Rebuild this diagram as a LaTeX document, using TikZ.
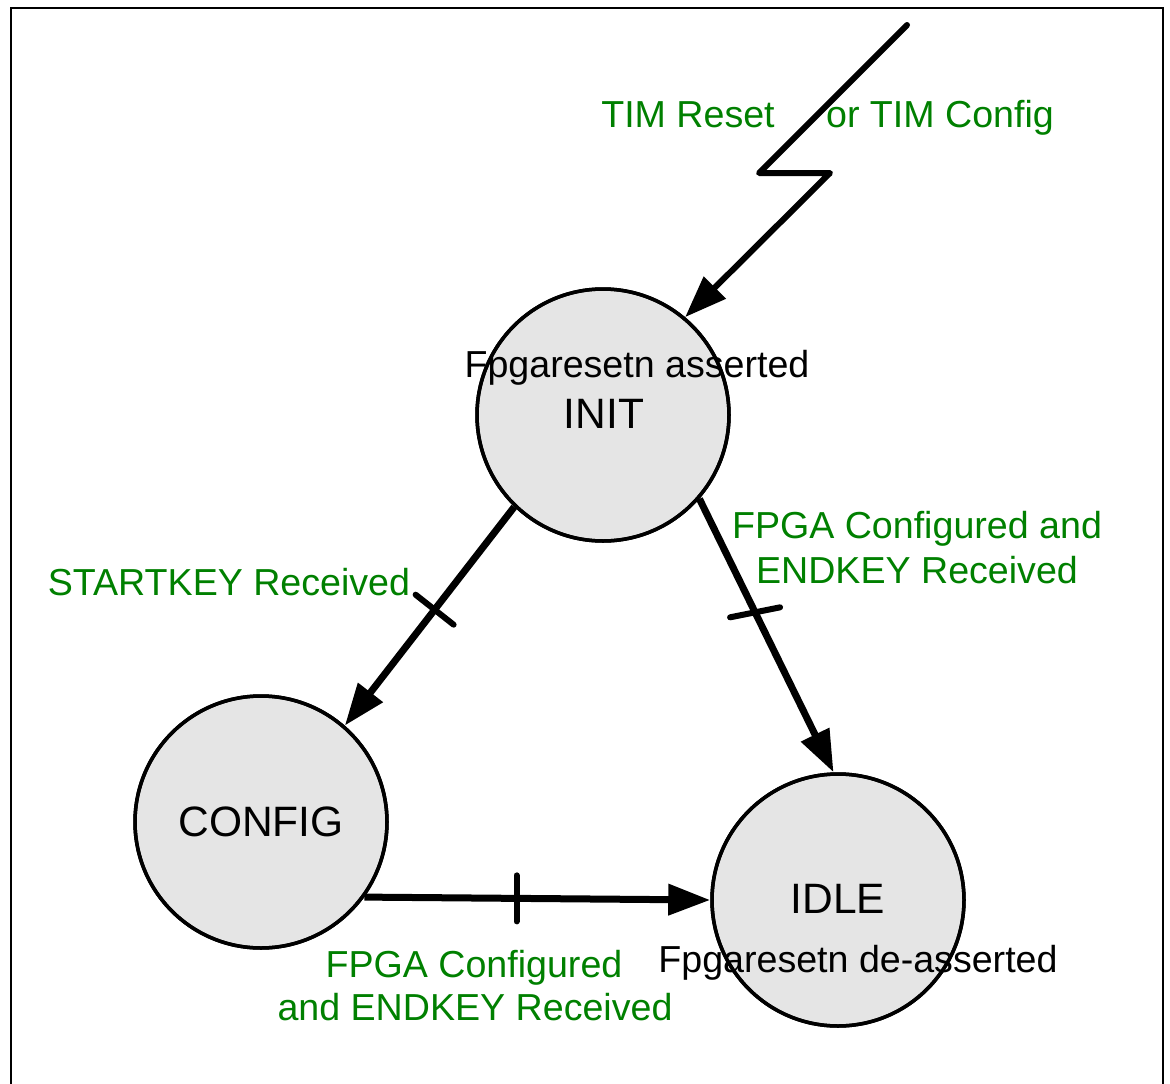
\documentclass[tikz,border=0pt]{standalone}
\usepackage{fontspec}
\setmainfont{Liberation Sans}
\usetikzlibrary{arrows.meta,calc}
\definecolor{lblgreen}{RGB}{0,128,0}
\definecolor{stfill}{RGB}{229,229,229}
\begin{document}
\begin{tikzpicture}[x=1pt,y=-1pt,
  state/.style={circle, fill=stfill, draw=black, line width=3.5pt, minimum size=252pt, inner sep=0pt},
  stname/.style={font=\fontsize{42.5}{50}\selectfont, anchor=base, inner sep=0pt},
  small/.style={font=\fontsize{37.6}{44}\selectfont, anchor=base, inner sep=0pt},
  glabel/.style={small, text=lblgreen},
  trans/.style={line width=7pt, -{Triangle[length=42pt,width=30pt]}},
  tick/.style={line width=6pt, line cap=round},
  frameline/.style={line width=1.8pt}
]
\useasboundingbox (0,0) rectangle (1170,1084);
\draw[frameline] (11,1084) -- (11,8) -- (1163,8) -- (1163,1084);

% states
\node[state] (init) at (603,415) {};
\node[state] (config) at (261,822) {};
\node[state] (idle) at (838,900) {};

% state texts
\node[small] (initsig) at (637,377) {Fpgaresetn asserted};
\node[stname] (initname) at (604,428) {INIT};
\node[stname] (configname) at (261,836) {CONFIG};
\node[stname] (idlename) at (838,913) {IDLE};
\node[small] (idlesig) at (858,972) {Fpgaresetn de-asserted};

% outlines over texts
\foreach \n in {init,config,idle}
  \draw[line width=3.5pt] (\n.center) circle (126pt);

% reset lightning
\coordinate (zstart) at (907,25);
\coordinate (zb1) at (759,173);
\coordinate (zb2) at (830,173);
\draw[trans, line width=6pt, line join=round, line cap=round] (zstart) -- (zb1) -- (zb2) -- (init.50);
\node[glabel] (rstA) at (688,127) {TIM Reset};
\node[glabel] (rstB) at (940,127) {or TIM Config};

% transitions
\draw[trans] (init.226) -- coordinate[pos=0.47] (t1) (config.49);
\draw[tick] ($(t1)+(-19,-15)$) -- ($(t1)+(19,15)$);
\draw[trans] (init.-41) -- coordinate[pos=0.415] (t2) (idle.92);
\draw[tick] ($(t2)+(-25,5)$) -- ($(t2)+(25,-5)$);
\draw[trans] (config.-36) -- coordinate[pos=0.44] (t3) (idle.180);
\draw[tick] ($(t3)+(0,-23)$) -- ($(t3)+(0,23)$);

% transition labels
\node[glabel] (lstart) at (229,595) {STARTKEY Received};
\node[glabel] (lend1a) at (917,538) {FPGA Configured and};
\node[glabel] (lend1b) at (917,583) {ENDKEY Received};
\node[glabel] (lend2a) at (474,977) {FPGA Configured};
\node[glabel] (lend2b) at (475,1020) {and ENDKEY Received};
\end{tikzpicture}
\end{document}
